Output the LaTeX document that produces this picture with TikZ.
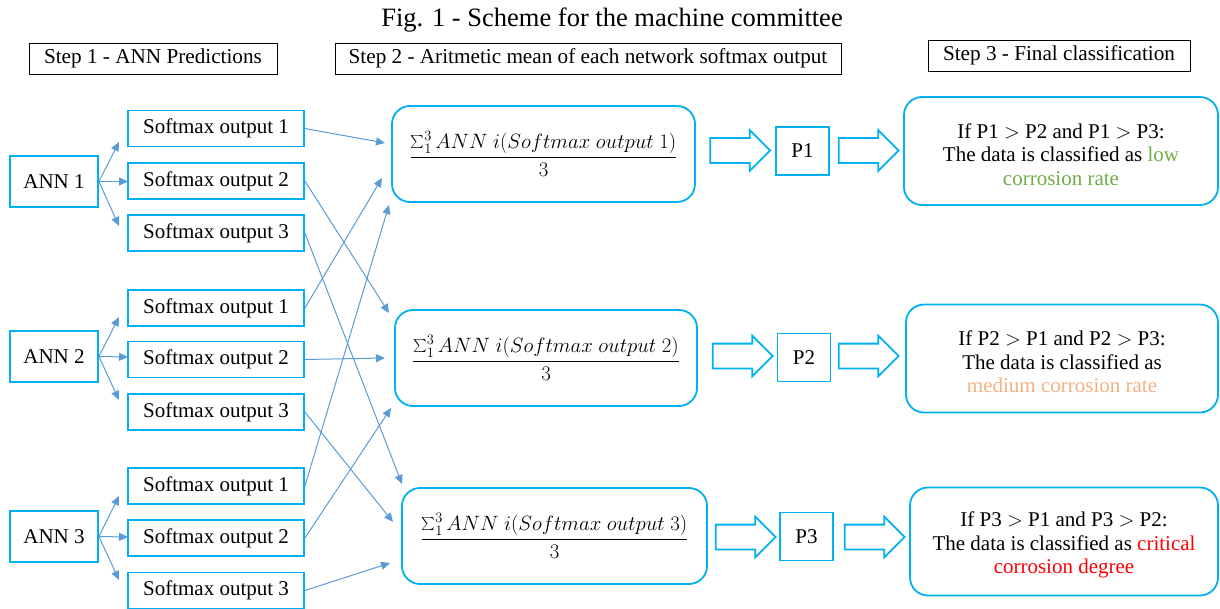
\documentclass[tikz,border=0pt]{standalone}
\usepackage{fontspec}
\setmainfont{Liberation Serif}
\usetikzlibrary{shapes.arrows,arrows.meta}
\definecolor{cyanb}{HTML}{00B0F0}
\definecolor{linkb}{HTML}{5B9BD5}
\definecolor{lowg}{HTML}{70AD47}
\definecolor{medo}{HTML}{F4B183}
\definecolor{critr}{HTML}{FF0000}
\newcommand{\meanfrac}[1]{$\displaystyle\frac{\mathop{\scalebox{1.3}{$\textstyle\sum$}}\nolimits_1^3 ANN\ i(Softmax\ output\ #1)}{3}$}
\tikzset{
  steplabel/.style={draw=black,line width=0.8pt,minimum height=31pt,inner sep=0pt,font=\fontsize{21.2}{24}\selectfont},
  annbox/.style={draw=cyanb,line width=1.8pt,minimum width=88pt,minimum height=51pt,inner sep=0pt,font=\fontsize{21}{24}\selectfont},
  smbox/.style={draw=cyanb,line width=1.8pt,minimum width=176pt,minimum height=36pt,inner sep=0pt,font=\fontsize{21}{24}\selectfont},
  meanbox/.style={draw=cyanb,line width=1.8pt,rounded corners=18pt,minimum height=96pt,inner sep=0pt,font=\fontsize{22.5}{26}\selectfont},
  pbox/.style={draw=cyanb,line width=1.8pt,minimum width=53pt,minimum height=48pt,inner sep=0pt,font=\fontsize{21}{24}\selectfont},
  finalbox/.style={draw=cyanb,line width=1.8pt,rounded corners=18pt,minimum height=108pt,inner sep=0pt,align=center,font=\fontsize{21}{23.5}\selectfont},
  blockarrow/.style={single arrow,draw=cyanb,line width=1.8pt,fill=white,inner xsep=0pt,inner ysep=10pt,minimum height=60pt,minimum width=41pt,single arrow tip angle=90},
  link/.style={draw=linkb,line width=1pt,-{Triangle[length=9pt,width=8pt]}}
}
\begin{document}
\begin{tikzpicture}[x=1pt,y=-1pt]
\useasboundingbox (0,0) rectangle (1220,608);
% title and steps
\node[font=\fontsize{26.5}{30}\selectfont] (title) at (612,20) {Fig. 1 - Scheme for the machine committee};
\node[steplabel,minimum width=248pt] (st1) at (153,58.5) {Step 1 - ANN Predictions};
\node[steplabel,minimum width=506pt] (st2) at (588,58.5) {Step 2 - Aritmetic mean of each network softmax output};
\node[steplabel,minimum width=262pt] (st3) at (1059,55.5) {Step 3 - Final classification};
% ANN nodes
\node[annbox] (ann1) at (54,181.5) {ANN 1};
\node[annbox] (ann2) at (54,356.5) {ANN 2};
\node[annbox] (ann3) at (54,536.5) {ANN 3};
% softmax nodes
\node[smbox] (s11) at (216,128.5) {Softmax output 1};
\node[smbox] (s12) at (216,181) {Softmax output 2};
\node[smbox] (s13) at (216,233) {Softmax output 3};
\node[smbox] (s21) at (216,308) {Softmax output 1};
\node[smbox] (s22) at (216,359.5) {Softmax output 2};
\node[smbox] (s23) at (216,412) {Softmax output 3};
\node[smbox] (s31) at (216,486) {Softmax output 1};
\node[smbox] (s32) at (216,538) {Softmax output 2};
\node[smbox] (s33) at (216,590.5) {Softmax output 3};
% mean boxes
\node[meanbox,minimum width=303pt] (m1) at (543.5,154) {\meanfrac{1}};
\node[meanbox,minimum width=302pt] (m2) at (546,358) {\meanfrac{2}};
\node[meanbox,minimum width=305pt] (m3) at (554.5,536) {\meanfrac{3}};
% P boxes
\node[pbox] (p1) at (802.5,151) {P1};
\node[pbox] (p2) at (804,357.5) {P2};
\node[pbox] (p3) at (806.5,536.5) {P3};
% block arrows
\node[blockarrow] (a1) at (734,150.5) {};
\node[blockarrow] (b1) at (862.5,150.5) {};
\node[blockarrow] (a2) at (736.5,356) {};
\node[blockarrow] (b2) at (862.5,356) {};
\node[blockarrow] (a3) at (739.5,537) {};
\node[blockarrow] (b3) at (868.5,537) {};
% final boxes
\node[finalbox,minimum width=314pt] (f1) at (1061,151) {\rule{0pt}{22pt}If P1 \(>\) P2 and P1 \(>\) P3:\\The data is classified as \textcolor{lowg}{low}\\\textcolor{lowg}{corrosion rate}};
\node[finalbox,minimum width=312pt] (f2) at (1062,358.5) {\rule{0pt}{22pt}If P2 \(>\) P1 and P2 \(>\) P3:\\The data is classified as\\\textcolor{medo}{medium corrosion rate}};
\node[finalbox,minimum width=308pt] (f3) at (1064,541.5) {\rule{0pt}{22pt}If P3 \(>\) P1 and P3 \(>\) P2:\\The data is classified as \textcolor{critr}{critical}\\\textcolor{critr}{corrosion degree}};
% arrow tip coordinates
\coordinate (t11) at (119,142);
\coordinate (t12) at (128,181.5);
\coordinate (t13) at (119,226);
\coordinate (t21) at (119,317);
\coordinate (t22) at (128,357);
\coordinate (t23) at (119,400);
\coordinate (t31) at (119,496);
\coordinate (t32) at (128,537);
\coordinate (t33) at (119,580);
\coordinate (c11) at (385,143);
\coordinate (c12) at (389,313);
\coordinate (c13) at (402,484);
\coordinate (c21) at (382,178);
\coordinate (c22) at (385,358);
\coordinate (c23) at (393,522);
\coordinate (c31) at (389,205);
\coordinate (c32) at (391,408);
\coordinate (c33) at (390,563);
% ANN to softmax
\foreach \a in {1,2,3}{
  \draw[link] (ann\a.east) -- (t\a1);
  \draw[link] (ann\a.east) -- (t\a2);
  \draw[link] (ann\a.east) -- (t\a3);
}
% softmax to means
\foreach \a in {1,2,3}{
  \foreach \b in {1,2,3}{
    \draw[link] (s\a\b.east) -- (c\a\b);
  }
}
\end{tikzpicture}
\end{document}
